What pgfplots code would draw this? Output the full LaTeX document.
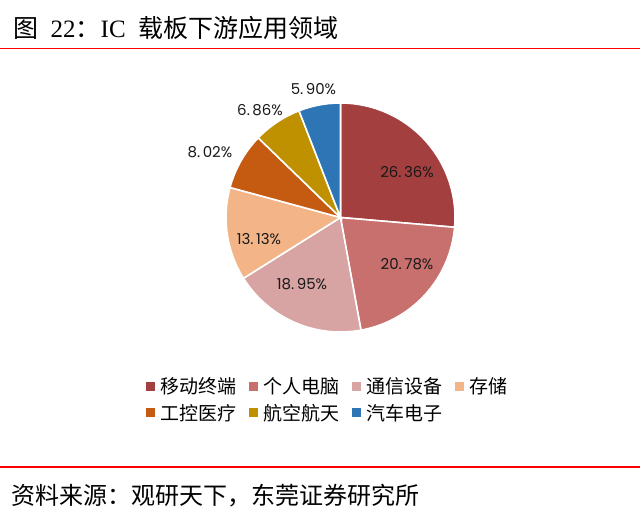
\documentclass[border=0pt]{standalone}
\usepackage{pgfplots}
\pgfplotsset{compat=1.18}
\usepackage{fontspec}
\setmainfont{Liberation Serif}
\newfontfamily\cjk{Noto Sans CJK SC}
\newfontfamily\numf{Poppins}
\definecolor{cA}{HTML}{A3403F}
\definecolor{cB}{HTML}{C8706E}
\definecolor{cC}{HTML}{D8A3A3}
\definecolor{cD}{HTML}{F3B588}
\definecolor{cE}{HTML}{C55A11}
\definecolor{cF}{HTML}{BF9000}
\definecolor{cG}{HTML}{2E75B6}
% shares (%)
\def\vA{26.36}\def\vB{20.78}\def\vC{18.95}\def\vD{13.13}\def\vE{8.02}\def\vF{6.86}\def\vG{5.90}
\pgfmathsetmacro\aA{90-3.6*\vA}
\pgfmathsetmacro\aB{\aA-3.6*\vB}
\pgfmathsetmacro\aC{\aB-3.6*\vC}
\pgfmathsetmacro\aD{\aC-3.6*\vD}
\pgfmathsetmacro\aE{\aD-3.6*\vE}
\pgfmathsetmacro\aF{\aE-3.6*\vF}
\pgfmathsetmacro\aG{\aF-3.6*\vG}
\begin{document}
\begin{tikzpicture}
\useasboundingbox (0,0) rectangle (640pt,519pt);
\node[anchor=west, font=\fontsize{25}{29}\selectfont, inner sep=0pt] at (13pt,491pt) {{\cjk 图}\hspace{12.5pt}22{\cjk ：}IC\hspace{12.5pt}{\cjk 载板下游应用领域}};
\draw[red, line width=1.3pt] (0,470.5pt) -- (640pt,470.5pt);
\draw[red, line width=1.3pt] (0,52pt) -- (640pt,52pt);
\node[anchor=west, font=\cjk\fontsize{24}{28}\selectfont, inner sep=0pt] at (11pt,23pt) {资料来源：观研天下，东莞证券研究所};
\begin{axis}[
  at={(340.5pt,301.5pt)}, anchor=origin,
  scale only axis, width=297.7pt, height=297.7pt,
  xmin=-1.3, xmax=1.3, ymin=-1.3, ymax=1.3,
  hide axis, clip=false,
  legend columns=4,
  legend image code/.code={\fill[#1,draw=none] (0pt,-4.5pt) rectangle (9pt,4.5pt);},
  legend style={draw=none, fill=none, inner sep=0pt,
    at={(-0.153,-0.03)}, anchor=north west,
    font=\cjk\fontsize{19}{22}\selectfont,
    row sep=5pt,
    /tikz/every odd column/.append style={column sep=3pt},
    /tikz/every even column/.append style={column sep=11pt}},
  legend cell align=left,
]
\addplot[fill=cA, draw=white, line width=1.6pt, domain=\aA:90, samples=120] ({cos(x)},{sin(x)}) -- (axis cs:0,0) -- cycle;
\addlegendentry{移动终端}
\addplot[fill=cB, draw=white, line width=1.6pt, domain=\aB:\aA, samples=100] ({cos(x)},{sin(x)}) -- (axis cs:0,0) -- cycle;
\addlegendentry{个人电脑}
\addplot[fill=cC, draw=white, line width=1.6pt, domain=\aC:\aB, samples=100] ({cos(x)},{sin(x)}) -- (axis cs:0,0) -- cycle;
\addlegendentry{通信设备}
\addplot[fill=cD, draw=white, line width=1.6pt, domain=\aD:\aC, samples=80] ({cos(x)},{sin(x)}) -- (axis cs:0,0) -- cycle;
\addlegendentry{存储}
\addplot[fill=cE, draw=white, line width=1.6pt, domain=\aE:\aD, samples=60] ({cos(x)},{sin(x)}) -- (axis cs:0,0) -- cycle;
\addlegendentry{工控医疗}
\addplot[fill=cF, draw=white, line width=1.6pt, domain=\aF:\aE, samples=60] ({cos(x)},{sin(x)}) -- (axis cs:0,0) -- cycle;
\addlegendentry{航空航天}
\addplot[fill=cG, draw=white, line width=1.6pt, domain=\aG:\aF, samples=60] ({cos(x)},{sin(x)}) -- (axis cs:0,0) -- cycle;
\addlegendentry{汽车电子}
\begin{scope}[every node/.style={font=\numf\fontsize{15}{18}\selectfont, text=black!90}]
\node at (axis cs:0.581,0.397) {26.\,36\%};
\node at (axis cs:0.581,-0.406) {20.\,78\%};
\node at (axis cs:-0.336,-0.581) {18.\,95\%};
\node at (axis cs:-0.712,-0.188) {13.\,13\%};
\node at (axis cs:-1.140,0.572) {8.\,02\%};
\node at (axis cs:-0.703,0.939) {6.\,86\%};
\node at (axis cs:-0.236,1.122) {5.\,90\%};
\end{scope}
\end{axis}
\end{tikzpicture}
\end{document}
